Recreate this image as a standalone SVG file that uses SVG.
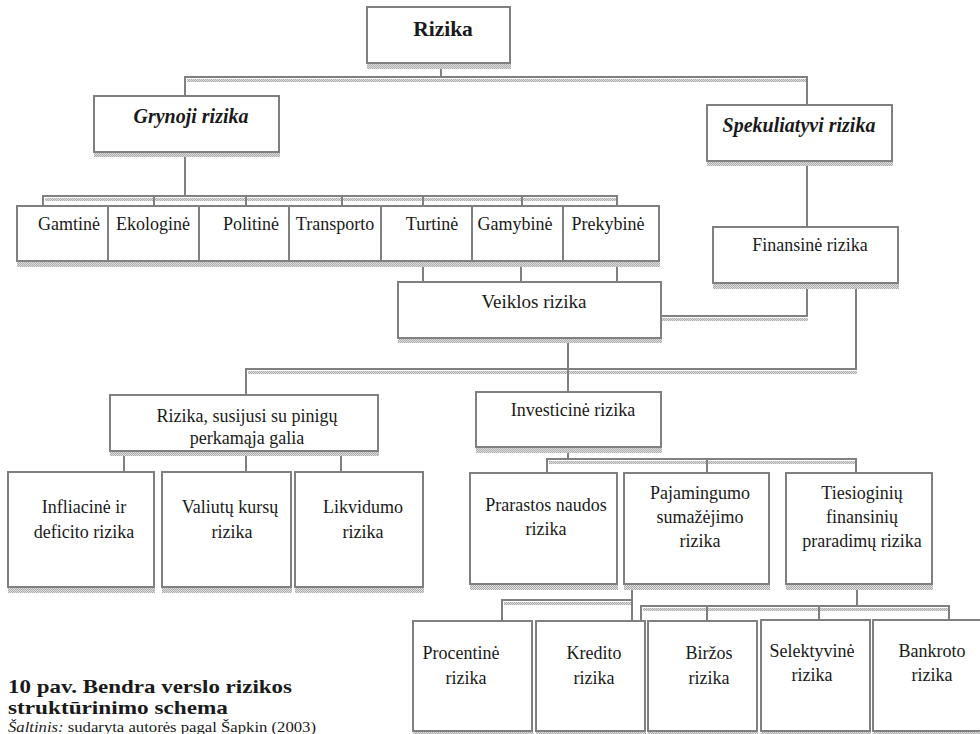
<svg xmlns="http://www.w3.org/2000/svg" width="980" height="734" viewBox="0 0 980 734">
<defs>
<pattern id="hatch" width="2" height="2" patternUnits="userSpaceOnUse">
<rect width="2" height="2" fill="#dedede"/>
<rect width="1" height="1" fill="#acacac"/>
<rect x="1" y="1" width="1" height="1" fill="#acacac"/>
</pattern>
<style>
.box{fill:#ffffff;stroke:#808080;stroke-width:2}
.sh{fill:url(#hatch)}
.ln{fill:none;stroke:#808080;stroke-width:2}
.st{fill:url(#hatch)}
.t{font-family:"Liberation Serif","Times New Roman",serif;font-size:18px;fill:#1a1a1a;text-anchor:middle}
.tb{font-weight:bold}
.ti{font-style:italic}
.cap{font-family:"Liberation Serif","Times New Roman",serif;fill:#1a1a1a}
</style>
</defs>
<rect width="980" height="734" fill="#ffffff"/>

<g id="connectors">
<rect class="st" x="187" y="79" width="621" height="3"/>
<rect class="st" x="45" y="198" width="573" height="3"/>
<rect class="st" x="661" y="318" width="147" height="3"/>
<rect class="st" x="248" y="371" width="609" height="3"/>
<rect class="st" x="549" y="461" width="308" height="3"/>
<rect class="st" x="504" y="602" width="128" height="3"/>
<rect class="st" x="643" y="608" width="307" height="3"/>
<path class="ln" d="M441,63V77M185,96V77H807V105"/>
<path class="ln" d="M185,152V196M43,206V196H617V206M154,196V206M246,196V206M342,196V206M423,196V206M522,196V206"/>
<path class="ln" d="M423,261V282M521,261V282M617,261V282"/>
<path class="ln" d="M807,161V227"/>
<path class="ln" d="M807,283V316H661"/>
<path class="ln" d="M856,283V369H246V395"/>
<path class="ln" d="M568,338V392"/>
<path class="ln" d="M124,451V472M246,451V472M341,451V472"/>
<path class="ln" d="M568,447V459M547,473V459H856V473M707,459V473"/>
<path class="ln" d="M632,584V621M632,600H502V621"/>
<path class="ln" d="M857,584V606M641,620V606H949V620M707,606V620M819,606V620"/>
</g>

<g id="n-rizika">
<rect class="sh" x="367" y="63" width="144" height="6"/>
<rect class="box" x="367" y="7" width="143" height="56"/>
<text class="t tb" x="443" y="36" style="font-size:21.5px">Rizika</text>
</g>

<g id="n-grynoji">
<rect class="sh" x="94" y="152" width="186" height="5"/>
<rect class="box" x="94" y="96" width="185" height="56"/>
<text class="t tb ti" x="191" y="123" style="font-size:20px">Grynoji rizika</text>
</g>

<g id="n-spekuliatyvi">
<rect class="sh" x="707" y="161" width="186" height="5"/>
<rect class="box" x="707" y="105" width="185" height="56"/>
<text class="t tb ti" x="799" y="132" style="font-size:20px">Spekuliatyvi rizika</text>
</g>

<g id="n-gamtine">
<rect class="sh" x="17" y="261" width="92" height="6"/>
<rect class="box" x="17" y="206" width="91" height="55"/>
<text class="t" x="69" y="230">Gamtinė</text>
</g>
<g id="n-ekologine">
<rect class="sh" x="108" y="261" width="92" height="6"/>
<rect class="box" x="108" y="206" width="91" height="55"/>
<text class="t" x="153" y="230">Ekologinė</text>
</g>
<g id="n-politine">
<rect class="sh" x="199" y="261" width="91" height="6"/>
<rect class="box" x="199" y="206" width="90" height="55"/>
<text class="t" x="251" y="230">Politinė</text>
</g>
<g id="n-transporto">
<rect class="sh" x="289" y="261" width="93" height="6"/>
<rect class="box" x="289" y="206" width="92" height="55"/>
<text class="t" x="335" y="230">Transporto</text>
</g>
<g id="n-turtine">
<rect class="sh" x="381" y="261" width="92" height="6"/>
<rect class="box" x="381" y="206" width="91" height="55"/>
<text class="t" x="432" y="230">Turtinė</text>
</g>
<g id="n-gamybine">
<rect class="sh" x="472" y="261" width="92" height="6"/>
<rect class="box" x="472" y="206" width="91" height="55"/>
<text class="t" x="515" y="230">Gamybinė</text>
</g>
<g id="n-prekybine">
<rect class="sh" x="563" y="261" width="97" height="6"/>
<rect class="box" x="563" y="206" width="96" height="55"/>
<text class="t" x="608" y="230">Prekybinė</text>
</g>

<g id="n-finansine">
<rect class="sh" x="713" y="283" width="186" height="6"/>
<rect class="box" x="713" y="227" width="185" height="56"/>
<text class="t" x="810" y="251">Finansinė rizika</text>
</g>

<g id="n-veiklos">
<rect class="sh" x="398" y="338" width="264" height="5"/>
<rect class="box" x="398" y="282" width="263" height="56"/>
<text class="t" x="534" y="308" style="font-size:19px">Veiklos rizika</text>
</g>

<g id="n-pinigu">
<rect class="sh" x="110" y="451" width="269" height="5"/>
<rect class="box" x="110" y="395" width="268" height="56"/>
<text class="t" x="247" y="422">Rizika, susijusi su pinigų</text>
<text class="t" x="247" y="444">perkamąja galia</text>
</g>

<g id="n-investicine">
<rect class="sh" x="476" y="447" width="186" height="6"/>
<rect class="box" x="476" y="392" width="185" height="55"/>
<text class="t" x="573" y="416">Investicinė rizika</text>
</g>

<g id="n-infliacine">
<rect class="sh" x="8" y="587" width="147" height="6"/>
<rect class="box" x="8" y="472" width="146" height="115"/>
<text class="t" x="84" y="513">Infliacinė ir</text>
<text class="t" x="84" y="538">deficito rizika</text>
</g>
<g id="n-valiutu">
<rect class="sh" x="162" y="587" width="130" height="6"/>
<rect class="box" x="162" y="472" width="129" height="115"/>
<text class="t" x="230" y="513">Valiutų kursų</text>
<text class="t" x="232" y="538">rizika</text>
</g>
<g id="n-likvidumo">
<rect class="sh" x="295" y="587" width="129" height="6"/>
<rect class="box" x="295" y="472" width="128" height="115"/>
<text class="t" x="363" y="513">Likvidumo</text>
<text class="t" x="363" y="538">rizika</text>
</g>

<g id="n-prarastos">
<rect class="sh" x="470" y="584" width="148" height="6"/>
<rect class="box" x="470" y="473" width="147" height="111"/>
<text class="t" x="546" y="511">Prarastos naudos</text>
<text class="t" x="546" y="535">rizika</text>
</g>
<g id="n-pajamingumo">
<rect class="sh" x="624" y="584" width="146" height="6"/>
<rect class="box" x="624" y="473" width="145" height="111"/>
<text class="t" x="700" y="499">Pajamingumo</text>
<text class="t" x="700" y="523">sumažėjimo</text>
<text class="t" x="700" y="547">rizika</text>
</g>
<g id="n-tiesioginiu">
<rect class="sh" x="786" y="584" width="147" height="6"/>
<rect class="box" x="786" y="473" width="146" height="111"/>
<text class="t" x="862" y="499">Tiesioginių</text>
<text class="t" x="862" y="523">finansinių</text>
<text class="t" x="862" y="547">praradimų rizika</text>
</g>

<g id="n-procentine">
<rect class="sh" x="413" y="731" width="120" height="3"/>
<rect class="box" x="413" y="621" width="119" height="110"/>
<text class="t" x="461" y="659">Procentinė</text>
<text class="t" x="466" y="684">rizika</text>
</g>
<g id="n-kredito">
<rect class="sh" x="536" y="731" width="110" height="3"/>
<rect class="box" x="536" y="621" width="109" height="110"/>
<text class="t" x="594" y="659">Kredito</text>
<text class="t" x="594" y="684">rizika</text>
</g>
<g id="n-birzos">
<rect class="sh" x="648" y="731" width="110" height="3"/>
<rect class="box" x="648" y="621" width="109" height="110"/>
<text class="t" x="709" y="659">Biržos</text>
<text class="t" x="709" y="684">rizika</text>
</g>
<g id="n-selektyvine">
<rect class="sh" x="761" y="731" width="110" height="3"/>
<rect class="box" x="761" y="620" width="109" height="111"/>
<text class="t" x="812" y="657">Selektyvinė</text>
<text class="t" x="812" y="681">rizika</text>
</g>
<g id="n-bankroto">
<rect class="sh" x="873" y="731" width="110" height="3"/>
<rect class="box" x="873" y="620" width="110" height="111"/>
<text class="t" x="932" y="657">Bankroto</text>
<text class="t" x="932" y="681">rizika</text>
</g>

<g id="caption">
<text class="cap" x="8" y="693" textLength="284" lengthAdjust="spacingAndGlyphs" style="font-size:19px;font-weight:bold">10 pav. Bendra verslo rizikos</text>
<text class="cap" x="8" y="714" textLength="220" lengthAdjust="spacingAndGlyphs" style="font-size:19px;font-weight:bold">struktūrinimo schema</text>
<text class="cap" x="8" y="732" textLength="308" lengthAdjust="spacingAndGlyphs" style="font-size:14.5px"><tspan font-style="italic">Šaltinis:</tspan> sudaryta autorės pagal Šapkin (2003)</text>
</g>
</svg>
